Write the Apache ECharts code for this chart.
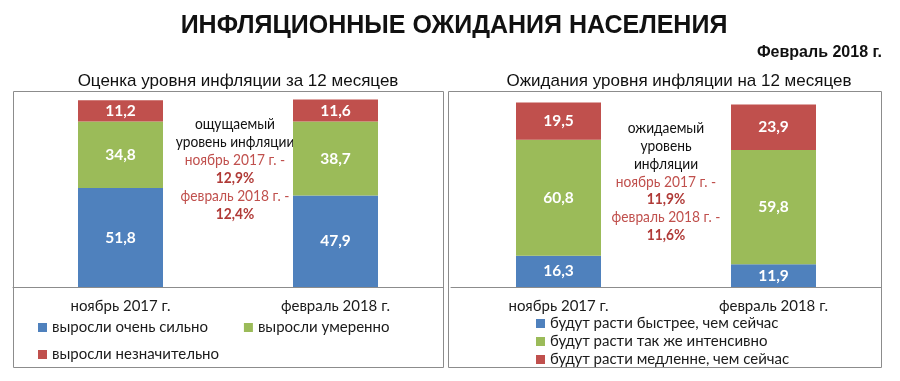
<!DOCTYPE html>
<html><head><meta charset="utf-8">
<script src="https://cdn.jsdelivr.net/npm/echarts@6/dist/echarts.min.js"></script>
<style>html,body{margin:0;padding:0;background:#fff}#c{width:900px;height:381px}</style>
</head><body><div id="c"></div>
<script>
const categories = ['ноябрь 2017 г.', 'февраль 2018 г.'];
const leftNames = ['выросли очень сильно', 'выросли умеренно', 'выросли незначительно'];
const leftBlue = [51.8, 47.9];
const leftGreen = [34.8, 38.7];
const leftRed = [11.2, 11.6];
const rightNames = ['будут расти быстрее, чем сейчас', 'будут расти так же интенсивно', 'будут расти медленне, чем сейчас'];
const rightBlue = [16.3, 11.9];
const rightGreen = [60.8, 59.8];
const rightRed = [19.5, 23.9];
const colors = ['#4f81bd', '#9bbb59', '#c0504d'];

const F = 'Lato, "Open Sans", sans-serif';
const ARIAL = '"Liberation Sans", Arial, sans-serif';
const chart = echarts.init(document.getElementById('c'));

function fmt(p){ return String(p.value).replace('.', ','); }
function mk(name, data, gi, ci){
  return {
    name, type: 'bar', stack: 's' + gi, data, xAxisIndex: gi, yAxisIndex: gi,
    barWidth: 85, itemStyle: {color: colors[ci]},
    label: {show: true, position: 'inside', color: '#fff', fontFamily: F, fontWeight: 'bold', fontSize: 15.5, formatter: fmt},
    emphasis: {disabled: true}
  };
}
const axisX = (gi) => ({
  type: 'category', gridIndex: gi, data: categories,
  axisLine: {lineStyle: {color: '#8c8c8c', width: 1}}, axisTick: {show: false},
  axisLabel: {color: '#1a1a1a', fontFamily: F, fontSize: 15, margin: 12}
});
const axisY = (gi) => ({type: 'value', gridIndex: gi, min: 0, max: 100, show: false, splitLine: {show: false}});
const legText = {color: '#1a1a1a', fontFamily: F, fontSize: 15};

function annot(lines, cx, y0, lh){
  return lines.map((l, i) => ({
    type: 'text', x: cx, y: y0 + i * lh, scaleX: 0.86,
    style: {text: l[0], fill: l[1], font: (l[2] ? 'bold ' : '') + '16px ' + F, align: 'center', verticalAlign: 'middle'}
  }));
}
const RED = '#c0504d', DRED = '#b03a37';

chart.setOption({
  animation: false,
  title: [
    {text: 'ИНФЛЯЦИОННЫЕ ОЖИДАНИЯ НАСЕЛЕНИЯ', left: 449, top: 9, textAlign: 'center',
     textStyle: {fontFamily: ARIAL, fontWeight: 'bold', fontSize: 25, color: '#111'}},
    {text: 'Февраль 2018 г.', right: 13, top: 40, textStyle: {fontFamily: ARIAL, fontWeight: 'bold', fontSize: 16, color: '#111'}},
    {text: 'Оценка уровня инфляции за 12 месяцев', left: 233, top: 68, textAlign: 'center',
     textStyle: {fontFamily: ARIAL, fontWeight: 'normal', fontSize: 17, color: '#111'}},
    {text: 'Ожидания уровня инфляции на 12 месяцев', left: 674, top: 68, textAlign: 'center',
     textStyle: {fontFamily: ARIAL, fontWeight: 'normal', fontSize: 17, color: '#111'}}
  ],
  grid: [
    {left: 13, width: 430, top: 96, height: 191},
    {left: 451, width: 430, top: 96, height: 191}
  ],
  xAxis: [axisX(0), axisX(1)],
  yAxis: [axisY(0), axisY(1)],
  legend: [
    {data: [leftNames[0], leftNames[1]], left: 33, top: 315, itemWidth: 9, itemHeight: 9, itemGap: 36, textStyle: legText, icon: 'rect', selectedMode: false},
    {data: [leftNames[2]], left: 33, top: 342, itemWidth: 9, itemHeight: 9, textStyle: legText, icon: 'rect', selectedMode: false},
    {data: rightNames, left: 531, top: 311, orient: 'vertical', itemWidth: 9, itemHeight: 9, itemGap: 3, textStyle: legText, icon: 'rect', selectedMode: false}
  ],
  series: [
    mk(leftNames[0], leftBlue, 0, 0), mk(leftNames[1], leftGreen, 0, 1), mk(leftNames[2], leftRed, 0, 2),
    mk(rightNames[0], rightBlue, 1, 0), mk(rightNames[1], rightGreen, 1, 1), mk(rightNames[2], rightRed, 1, 2)
  ],
  graphic: [
    {type: 'rect', shape: {x: 13.5, y: 91.5, width: 430, height: 276}, style: {fill: 'none', stroke: '#8c8c8c', lineWidth: 1}, silent: true},
    {type: 'rect', shape: {x: 448.5, y: 91.5, width: 433, height: 276}, style: {fill: 'none', stroke: '#8c8c8c', lineWidth: 1}, silent: true},
    ...annot([
      ['ощущаемый', '#111'], ['уровень инфляции', '#111'],
      ['ноябрь 2017 г. -', RED], ['12,9%', DRED, 1],
      ['февраль 2018 г. -', RED], ['12,4%', DRED, 1]
    ], 235, 124, 18),
    ...annot([
      ['ожидаемый', '#111'], ['уровень', '#111'], ['инфляции', '#111'],
      ['ноябрь 2017 г. -', RED], ['11,9%', DRED, 1],
      ['февраль 2018 г. -', RED], ['11,6%', DRED, 1]
    ], 666, 128, 17.8)
  ]
});
</script></body></html>
